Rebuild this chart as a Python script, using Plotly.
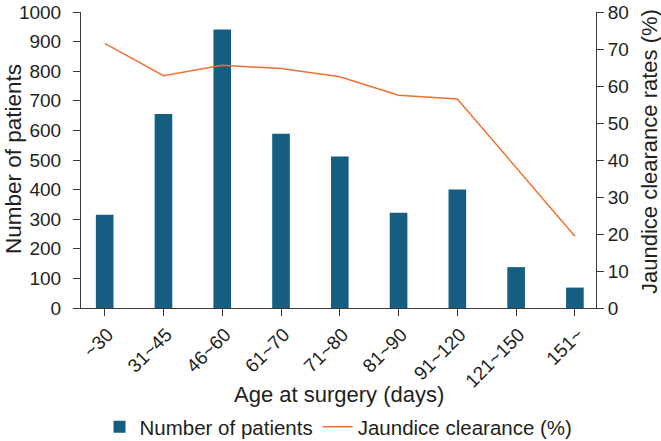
import plotly.graph_objects as go

categories = ["~30", "31~45", "46~60", "61~70", "71~80", "81~90", "91~120", "121~150", "151~"]
patients = [315, 655, 941, 589, 512, 322, 400, 138, 69]
clearance = [71.5, 62.8, 65.6, 64.7, 62.5, 57.5, 56.5, 38.0, 19.4]

FONT = "Liberation Sans, Arial, sans-serif"
TXT = "#231f20"
AX = "#3a3a3a"

L, R, T, B = 81, 65, 12, 133
W, H = 661, 441
PW = W - L - R
PH = H - T - B

def px_x(p):
    return (p - L) / PW

def px_y(p):
    return (H - B - p) / PH

fig = go.Figure()
fig.add_trace(go.Bar(x=categories, y=patients, name="Number of patients",
                     marker=dict(color="#155e82", line=dict(width=0)), yaxis="y"))
fig.add_trace(go.Scatter(x=categories, y=clearance, name="Jaundice clearance (%)",
                         mode="lines", line=dict(color="#f07030", width=1.5), yaxis="y2"))

fig.update_layout(
    width=W, height=H,
    margin=dict(l=L, r=R, t=T, b=B, autoexpand=False),
    paper_bgcolor="white", plot_bgcolor="white",
    font=dict(family=FONT, size=19, color=TXT),
    bargap=0.7,
    showlegend=True,
    legend=dict(orientation="h", x=0.5, xanchor="center", y=px_y(427), yanchor="middle",
                font=dict(size=20.5), tracegroupgap=0),
    xaxis=dict(type="category", range=[-0.403, 8.359], showline=True, linecolor=AX, linewidth=1,
               ticks="outside", ticklen=7, tickcolor=AX, tickangle=-45, automargin=False,
               tickfont=dict(size=19), ticklabelshift=3, showgrid=False, zeroline=False),
    yaxis=dict(range=[0, 1000], dtick=100, showline=True, linecolor=AX, linewidth=1,
               ticks="outside", ticklen=7, tickcolor=AX, showgrid=False, zeroline=False,
               automargin=False, tickfont=dict(size=19), ticklabelstandoff=8),
    yaxis2=dict(range=[0, 80], dtick=10, overlaying="y", side="right", showline=True,
                linecolor=AX, linewidth=1, ticks="outside", ticklen=7, tickcolor=AX,
                showgrid=False, zeroline=False, automargin=False,
                tickfont=dict(size=19)),
    annotations=[
        dict(text="Age at surgery (days)", xref="paper", yref="paper",
             x=0.5, y=px_y(394), xanchor="center", yanchor="middle",
             showarrow=False, font=dict(size=22)),
        dict(text="Number of patients", xref="paper", yref="paper", textangle=-90,
             x=px_x(13), y=px_y(159), xanchor="center", yanchor="middle",
             showarrow=False, font=dict(size=22.5)),
        dict(text="Jaundice clearance rates (%)", xref="paper", yref="paper", textangle=-90,
             x=px_x(649), y=px_y(152), xanchor="center", yanchor="middle",
             showarrow=False, font=dict(size=22)),
    ],
)

fig.write_html("out.html", config={"displayModeBar": False},
               post_script="document.body.style.margin='0px';document.body.style.overflow='hidden';")
